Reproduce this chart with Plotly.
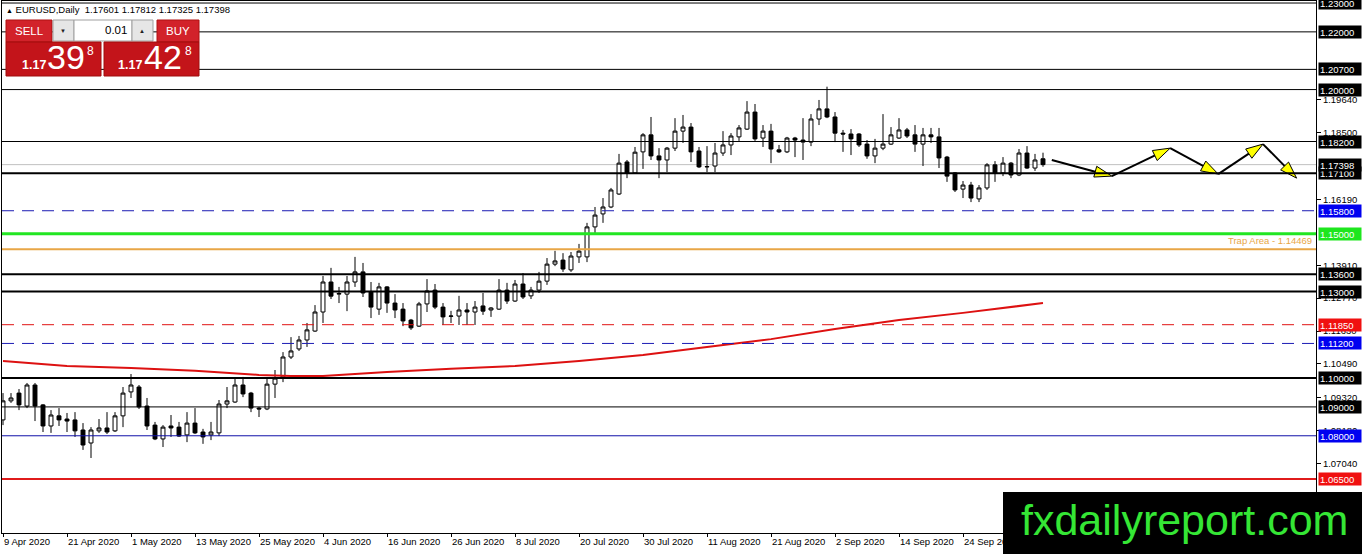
import pandas as pd
import plotly.graph_objects as go

# EURUSD daily candles
opens = [1.0855, 1.0921, 1.0948, 1.0903, 1.0976, 1.0907, 1.0834, 1.0869, 1.0858, 1.0855,
         1.0820, 1.0775, 1.0817, 1.0827, 1.0817, 1.0869, 1.0952, 1.0969, 1.0903, 1.0837,
         1.0789, 1.0834, 1.0830, 1.0803, 1.0844, 1.0813, 1.0803, 1.0810, 1.0910, 1.0917,
         1.0976, 1.0948, 1.0896, 1.0893, 1.0979, 1.1004, 1.1073, 1.1101, 1.1132, 1.1163,
         1.1229, 1.1333, 1.1291, 1.1291, 1.1333, 1.1368, 1.1298, 1.1239, 1.1316, 1.1260,
         1.1239, 1.1201, 1.1180, 1.1257, 1.1305, 1.1246, 1.1214, 1.1215, 1.1236, 1.1229,
         1.1250, 1.1236, 1.1239, 1.1305, 1.1267, 1.1326, 1.1285, 1.1305, 1.1336, 1.1395,
         1.1409, 1.1375, 1.1420, 1.1420, 1.1524, 1.1569, 1.1593, 1.1638, 1.1749, 1.1711,
         1.1784, 1.1843, 1.1770, 1.1756, 1.1797, 1.1856, 1.1870, 1.1787, 1.1732, 1.1735,
         1.1780, 1.1808, 1.1836, 1.1863, 1.1922, 1.1832, 1.1856, 1.1791, 1.1784, 1.1832,
         1.1825, 1.1818, 1.1898, 1.1933, 1.1905, 1.1849, 1.1846, 1.1846, 1.1811, 1.1770,
         1.1797, 1.1811, 1.1832, 1.1860, 1.1843, 1.1811, 1.1843, 1.1836, 1.1766, 1.1711,
         1.1655, 1.1669, 1.1621, 1.1659, 1.1739, 1.1711, 1.1745, 1.1704, 1.1780, 1.1728,
         1.17601]
highs = [1.0948, 1.0948, 1.0962, 1.0983, 1.0983, 1.0910, 1.0889, 1.0896, 1.0879, 1.0882,
         1.0844, 1.0830, 1.0858, 1.0882, 1.0882, 1.0969, 1.1014, 1.0976, 1.0931, 1.0848,
         1.0837, 1.0872, 1.0848, 1.0882, 1.0896, 1.0824, 1.0848, 1.0924, 1.0969, 1.0997,
         1.1004, 1.0952, 1.0900, 1.0997, 1.1028, 1.1090, 1.1142, 1.1146, 1.1191, 1.1253,
         1.1354, 1.1382, 1.1316, 1.1354, 1.1420, 1.1399, 1.1333, 1.1330, 1.1319, 1.1291,
         1.1260, 1.1205, 1.1264, 1.1343, 1.1326, 1.1260, 1.1233, 1.1285, 1.1260, 1.1267,
         1.1295, 1.1246, 1.1343, 1.1330, 1.1340, 1.1364, 1.1316, 1.1368, 1.1416, 1.1441,
         1.1433, 1.1437, 1.1465, 1.1538, 1.1593, 1.1624, 1.1659, 1.1777, 1.1756, 1.1801,
         1.1849, 1.1905, 1.1797, 1.1801, 1.1901, 1.1912, 1.1884, 1.1801, 1.1804, 1.1815,
         1.1856, 1.1849, 1.1877, 1.1960, 1.1950, 1.1877, 1.1881, 1.1808, 1.1836, 1.1836,
         1.1901, 1.1915, 1.1964, 1.2010, 1.1922, 1.1860, 1.1863, 1.1849, 1.1825, 1.1829,
         1.1915, 1.1870, 1.1901, 1.1867, 1.1877, 1.1867, 1.1867, 1.1867, 1.1770, 1.1714,
         1.1683, 1.1680, 1.1669, 1.1745, 1.1752, 1.1766, 1.1749, 1.1794, 1.1804, 1.1777,
         1.17812]
lows = [1.0837, 1.0914, 1.0889, 1.0896, 1.0851, 1.0813, 1.0810, 1.0834, 1.0813, 1.0796,
        1.0751, 1.0723, 1.0810, 1.0806, 1.0813, 1.0830, 1.0931, 1.0893, 1.0820, 1.0785,
        1.0761, 1.0796, 1.0796, 1.0778, 1.0806, 1.0772, 1.0785, 1.0799, 1.0896, 1.0914,
        1.0934, 1.0882, 1.0865, 1.0889, 1.0931, 1.0986, 1.1066, 1.1094, 1.1108, 1.1160,
        1.1191, 1.1274, 1.1260, 1.1232, 1.1316, 1.1281, 1.1208, 1.1219, 1.1226, 1.1208,
        1.1180, 1.1167, 1.1177, 1.1229, 1.1239, 1.1184, 1.1191, 1.1184, 1.1184, 1.1184,
        1.1219, 1.1212, 1.1236, 1.1257, 1.1264, 1.1274, 1.1274, 1.1295, 1.1323, 1.1388,
        1.1368, 1.1368, 1.1399, 1.1402, 1.1503, 1.1538, 1.1589, 1.1635, 1.1693, 1.1708,
        1.1725, 1.1756, 1.1693, 1.1714, 1.1787, 1.1815, 1.1749, 1.1728, 1.1714, 1.1714,
        1.1770, 1.1773, 1.1822, 1.1860, 1.1822, 1.1801, 1.1745, 1.1780, 1.1780, 1.1766,
        1.1756, 1.1804, 1.1877, 1.1901, 1.1818, 1.1784, 1.1773, 1.1801, 1.1760, 1.1745,
        1.1790, 1.1808, 1.1829, 1.1832, 1.1784, 1.1735, 1.1815, 1.1728, 1.1680, 1.1645,
        1.1624, 1.1610, 1.1610, 1.1652, 1.1680, 1.1700, 1.1693, 1.1700, 1.1725, 1.1718,
        1.17325]
closes = [1.0921, 1.0931, 1.0907, 1.0976, 1.0903, 1.0834, 1.0872, 1.0855, 1.0851, 1.0817,
          1.0768, 1.0820, 1.0827, 1.0813, 1.0869, 1.0948, 1.0976, 1.0900, 1.0834, 1.0789,
          1.0830, 1.0827, 1.0799, 1.0844, 1.0810, 1.0796, 1.0813, 1.0910, 1.0921, 1.0976,
          1.0945, 1.0896, 1.0893, 1.0979, 1.1000, 1.1073, 1.1094, 1.1132, 1.1167, 1.1229,
          1.1333, 1.1284, 1.1293, 1.1333, 1.1368, 1.1295, 1.1246, 1.1316, 1.1260, 1.1236,
          1.1198, 1.1174, 1.1257, 1.1302, 1.1246, 1.1212, 1.1215, 1.1236, 1.1229, 1.1246,
          1.1232, 1.1243, 1.1305, 1.1267, 1.1326, 1.1281, 1.1305, 1.1336, 1.1395, 1.1406,
          1.1378, 1.1423, 1.1440, 1.1524, 1.1565, 1.1593, 1.1652, 1.1745, 1.1711, 1.1783,
          1.1843, 1.1770, 1.1756, 1.1797, 1.1856, 1.1870, 1.1784, 1.1732, 1.1733, 1.1780,
          1.1808, 1.1839, 1.1867, 1.1922, 1.1829, 1.1856, 1.1794, 1.1784, 1.1832, 1.1825,
          1.1818, 1.1898, 1.1933, 1.1905, 1.1849, 1.1846, 1.1829, 1.1808, 1.1770, 1.1797,
          1.1811, 1.1843, 1.1860, 1.1839, 1.1811, 1.1843, 1.1836, 1.1763, 1.1700, 1.1652,
          1.1669, 1.1624, 1.1659, 1.1739, 1.1711, 1.1745, 1.1704, 1.1780, 1.1728, 1.1756,
          1.17398]

dates = pd.bdate_range("2020-04-09", periods=len(opens))
bars = list(range(len(opens)))
label_step = 8

# moving average (red), sampled along the chart
ma_bars = [0, 8, 16, 24, 32, 36, 40, 48, 56, 64, 72, 80, 88, 96, 104, 112, 120, 130]
ma_values = [1.1059, 1.1042, 1.1035, 1.1025, 1.1011, 1.1007, 1.1007, 1.1021, 1.1032,
             1.1042, 1.1059, 1.1080, 1.1108, 1.1135, 1.1170, 1.1201, 1.1226, 1.1260]

# projected zigzag
proj_bars = [131.1, 138.6, 145.9, 151.9, 157.5, 161.7]
proj_prices = [1.1756, 1.1700, 1.1797, 1.1707, 1.1811, 1.1693]

levels = [1.23, 1.22, 1.207, 1.20, 1.182, 1.171, 1.158, 1.15, 1.136, 1.13,
          1.1185, 1.112, 1.10, 1.09, 1.08, 1.065]
trap_level = 1.14469
axis_ticks = [1.1964, 1.1850, 1.1619, 1.1391, 1.1277, 1.1163, 1.1049, 1.0932, 1.0818, 1.0704]

# line colour, width, dash, label box colour
BLK = ("#000000", 1, "solid", "#000000")
BLK2 = ("#000000", 2, "solid", "#000000")
style = {
    1.23: BLK, 1.22: BLK, 1.207: BLK, 1.20: BLK, 1.182: BLK, 1.171: BLK2,
    1.158: ("#1c1cb4", 1, "12px,8px", "#0000f0"),
    1.15: ("#22e622", 3, "solid", "#1ee61e"),
    1.136: BLK2, 1.13: BLK2,
    1.1185: ("#e01414", 1, "12px,8px", "#f01010"),
    1.112: ("#1c1cb4", 1, "12px,8px", "#0000f0"),
    1.10: BLK2, 1.09: BLK,
    1.08: ("#1010a8", 1, "solid", "#0000f0"),
    1.065: ("#e01b1b", 2, "solid", "#f01010"),
}

W, H = 1362, 554
ML, MR, MT, MB = 2, 46, 1, 21


def fx(p):
    return (p - ML) / (W - ML - MR)


def fy(p):
    return 1 - (p - MT) / (H - MT - MB)


fig = go.Figure()

fig.add_trace(go.Scatter(x=ma_bars, y=ma_values, mode="lines",
                         line=dict(color="#dd1111", width=2), hoverinfo="skip"))

fig.add_trace(go.Candlestick(
    x=bars, open=opens, high=highs, low=lows, close=closes,
    increasing=dict(line=dict(color="black", width=1), fillcolor="white"),
    decreasing=dict(line=dict(color="black", width=1), fillcolor="black"),
    whiskerwidth=0, hoverinfo="skip"))

fig.add_trace(go.Scatter(
    x=proj_bars, y=proj_prices, mode="lines+markers",
    line=dict(color="black", width=2),
    marker=dict(symbol="arrow", size=18, angleref="previous", color="#ffff00",
                line=dict(color="black", width=1)),
    hoverinfo="skip"))

shapes = []
# current price line
shapes.append(dict(type="line", xref="paper", x0=0, x1=1, yref="y", y0=closes[-1], y1=closes[-1],
                   line=dict(color="#c0c0c0", width=1), layer="below"))
for lv in levels:
    c, w, d, _ = style[lv]
    shapes.append(dict(type="line", xref="paper", x0=0, x1=1, yref="y", y0=lv, y1=lv,
                       line=dict(color=c, width=w, dash=d), layer="above"))
shapes.append(dict(type="line", xref="paper", x0=0, x1=1, yref="y", y0=trap_level, y1=trap_level,
                   line=dict(color="#e8a646", width=2), layer="above"))

annotations = []
for lv in levels + [closes[-1]]:
    bg = style[lv][3] if lv in style else "#000000"
    annotations.append(dict(xref="paper", x=1, xanchor="left", xshift=2, yref="y", y=lv,
                            yanchor="middle", text=f"{lv:.5f}", showarrow=False, bgcolor=bg,
                            width=40, height=10, align="left", borderpad=1,
                            font=dict(family="Liberation Sans", size=9.5, color="white")))
annotations.append(dict(xref="paper", x=1, xanchor="right", xshift=-2, yref="y", y=trap_level,
                        yanchor="bottom", yshift=1, text=f"Trap Area - {trap_level:.5f}",
                        showarrow=False,
                        font=dict(family="Liberation Sans", size=9.5, color="#e8a646")))

# header
annotations.append(dict(xref="paper", yref="paper", x=fx(4), y=fy(9), xanchor="left",
                        yanchor="middle", showarrow=False,
                        text=("<span style='font-size:7px'>▲</span> EURUSD,Daily  "
                              f"{opens[-1]:.5f} {highs[-1]:.5f} {lows[-1]:.5f} {closes[-1]:.5f}"),
                        font=dict(family="Liberation Sans", size=9.5, color="black")))


def rect(x0, y0, x1, y1, fill, line="rgba(0,0,0,0)"):
    shapes.append(dict(type="rect", xref="paper", yref="paper", x0=fx(x0), x1=fx(x1),
                       y0=fy(y0), y1=fy(y1), fillcolor=fill, line=dict(color=line, width=1),
                       layer="above"))


def label(x, y, text, size, color="white", anchor="center", family="Liberation Sans"):
    annotations.append(dict(xref="paper", yref="paper", x=fx(x), y=fy(y), xanchor=anchor,
                            yanchor="middle", text=text, showarrow=False,
                            font=dict(family=family, size=size, color=color)))


# one-click trading panel
rect(6, 20, 52, 42, "#d2222a", "#b01010")
rect(53, 20, 74, 41, "#e6e6e6", "#a0a0a0")
rect(74, 20, 132, 41, "#ffffff", "#a0a0a0")
rect(132, 20, 153, 41, "#e6e6e6", "#a0a0a0")
rect(157, 20, 199, 42, "#d2222a", "#b01010")
rect(6, 42, 101, 76, "#c3141a", "#a00c0c")
rect(104, 42, 199, 76, "#c3141a", "#a00c0c")
label(29, 31, "SELL", 11.5)
label(178, 31, "BUY", 11.5)
label(63, 31, "▼", 6, "#222222")
label(142, 31, "▲", 6, "#222222")
label(129, 30, "0.01", 11.5, "#000000", "right")
label(20, 65, "<b>1.17</b>", 12.5, anchor="left")
label(45, 57, "39", 34, anchor="left")
label(85, 51, "8", 12, anchor="left")
label(116, 65, "<b>1.17</b>", 12.5, anchor="left")
label(142, 57, "42", 34, anchor="left")
label(183, 51, "8", 12, anchor="left")

# watermark
rect(1003, 492, 1362, 554, "#000000")
label(1184, 520, "fxdailyreport.com", 43, "#35e635")

tick_bars = bars[::label_step]
tick_text = [f"{d.day} {d:%b %Y}" for d in dates[::label_step]]

fig.update_layout(
    width=W, height=H, margin=dict(l=ML, r=MR, t=MT, b=MB),
    paper_bgcolor="white", plot_bgcolor="white", showlegend=False,
    shapes=shapes, annotations=annotations,
    font=dict(family="Liberation Sans", size=9.5, color="black"),
    xaxis=dict(range=[-0.125, 164.125], showgrid=False, zeroline=False, showline=True,
               linecolor="black", linewidth=1, mirror=True, ticks="outside", ticklen=3,
               tickcolor="black", tickvals=tick_bars, ticktext=tick_text,
               ticklabelposition="outside right", rangeslider=dict(visible=False),
               tickfont=dict(family="Liberation Sans", size=9.5)),
    yaxis=dict(range=[1.0463, 1.2307], side="right", showgrid=False, zeroline=False,
               showline=True, linecolor="black", linewidth=1, mirror=True, ticks="outside",
               ticklen=4, tickcolor="black", tickvals=axis_ticks, tickformat=".5f",
               tickfont=dict(family="Liberation Sans", size=9.5)),
)

fig.write_html("out.html", config={"displayModeBar": False},
               post_script="document.body.style.margin='0';")
